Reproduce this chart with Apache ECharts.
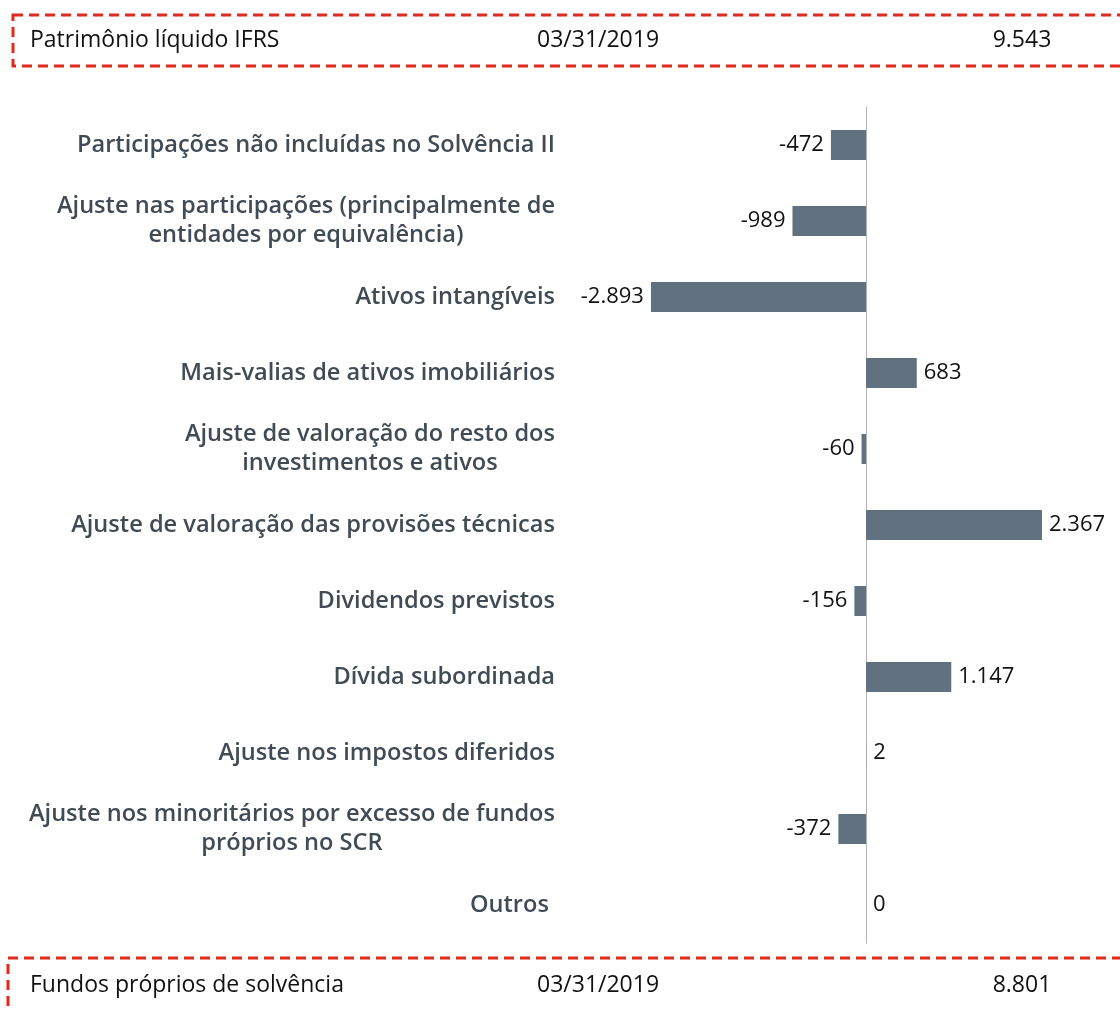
<!DOCTYPE html>
<html>
<head>
<meta charset="utf-8">
<script src="https://cdn.jsdelivr.net/npm/echarts@6/dist/echarts.min.js"></script>
<style>
  html, body { margin: 0; padding: 0; background: #fff; }
  #chart { width: 1120px; height: 1010px; }
</style>
</head>
<body>
<div id="chart"></div>
<script>
// bridge from IFRS equity to solvency own funds
const categories = [
  'Participações não incluídas no Solvência II',
  'Ajuste nas participações (principalmente de\nentidades por equivalência)',
  'Ativos intangíveis',
  'Mais-valias de ativos imobiliários',
  'Ajuste de valoração do resto dos\ninvestimentos e ativos',
  'Ajuste de valoração das provisões técnicas',
  'Dividendos previstos',
  'Dívida subordinada',
  'Ajuste nos impostos diferidos',
  'Ajuste nos minoritários por excesso de fundos\npróprios no SCR',
  'Outros '
];
const values = [-472, -989, -2893, 683, -60, 2367, -156, 1147, 2, -372, 0];

const refDate = '03/31/2019';
const startLabel = 'Patrimônio líquido IFRS';
const startValue = 9543;
const endLabel = 'Fundos próprios de solvência';
const endValue = 8801;

const font = '"Open Sans", "Noto Sans", Arial, sans-serif';

function fmt(v) {
  const s = Math.abs(v).toString().replace(/\B(?=(\d{3})+(?!\d))/g, '.');
  return (v < 0 ? '-' : '') + s;
}

const chart = echarts.init(document.getElementById('chart'));

function headerRow(y, label, value) {
  const style = { fill: '#111', fontSize: 23, fontFamily: font };
  return [
    { type: 'text', x: 30, y: y, style: Object.assign({ text: label, align: 'left', verticalAlign: 'middle' }, style) },
    { type: 'text', x: 537, y: y, style: Object.assign({ text: refDate, align: 'left', verticalAlign: 'middle' }, style) },
    { type: 'text', x: 1022, y: y, style: Object.assign({ text: fmt(value), align: 'center', verticalAlign: 'middle' }, style) }
  ];
}

const boxStyle = { fill: 'none', stroke: '#e0291b', lineWidth: 3, lineDash: [10, 6] };

chart.setOption({
  animation: false,
  grid: { left: 643, width: 446, top: 107, height: 836, containLabel: false, outerBoundsMode: 'none' },
  xAxis: {
    type: 'value', min: -3000, max: 3000,
    show: false
  },
  yAxis: {
    type: 'category', data: categories, inverse: true,
    axisLine: { onZero: true, lineStyle: { color: '#b4b4b4', width: 1 } },
    axisTick: { show: false },
    axisLabel: {
      margin: 88,
      align: 'right',
      formatter: (val) => val.split('\n').map(l => '{c|' + l + '}').join('\n'),
      rich: {
        c: { align: 'center', fontSize: 23.6, fontWeight: 600, color: '#414b55', fontFamily: font, lineHeight: 29 }
      }
    }
  },
  series: [{
    type: 'bar',
    barWidth: 30,
    itemStyle: { color: '#617180' },
    label: {
      show: true, distance: 7, color: '#111', fontSize: 22, fontFamily: font,
      formatter: (p) => fmt(p.value)
    },
    data: values.map(v => ({ value: v, label: { position: v < 0 ? 'left' : 'right' } }))
  }],
  graphic: [
    { type: 'rect', shape: { x: 13, y: 15, width: 1200, height: 51 }, style: boxStyle, z: 10 },
    { type: 'rect', shape: { x: 8, y: 958, width: 1200, height: 120 }, style: boxStyle, z: 10 }
  ].concat(headerRow(40, startLabel, startValue), headerRow(985, endLabel, endValue))
});
</script>
</body>
</html>
